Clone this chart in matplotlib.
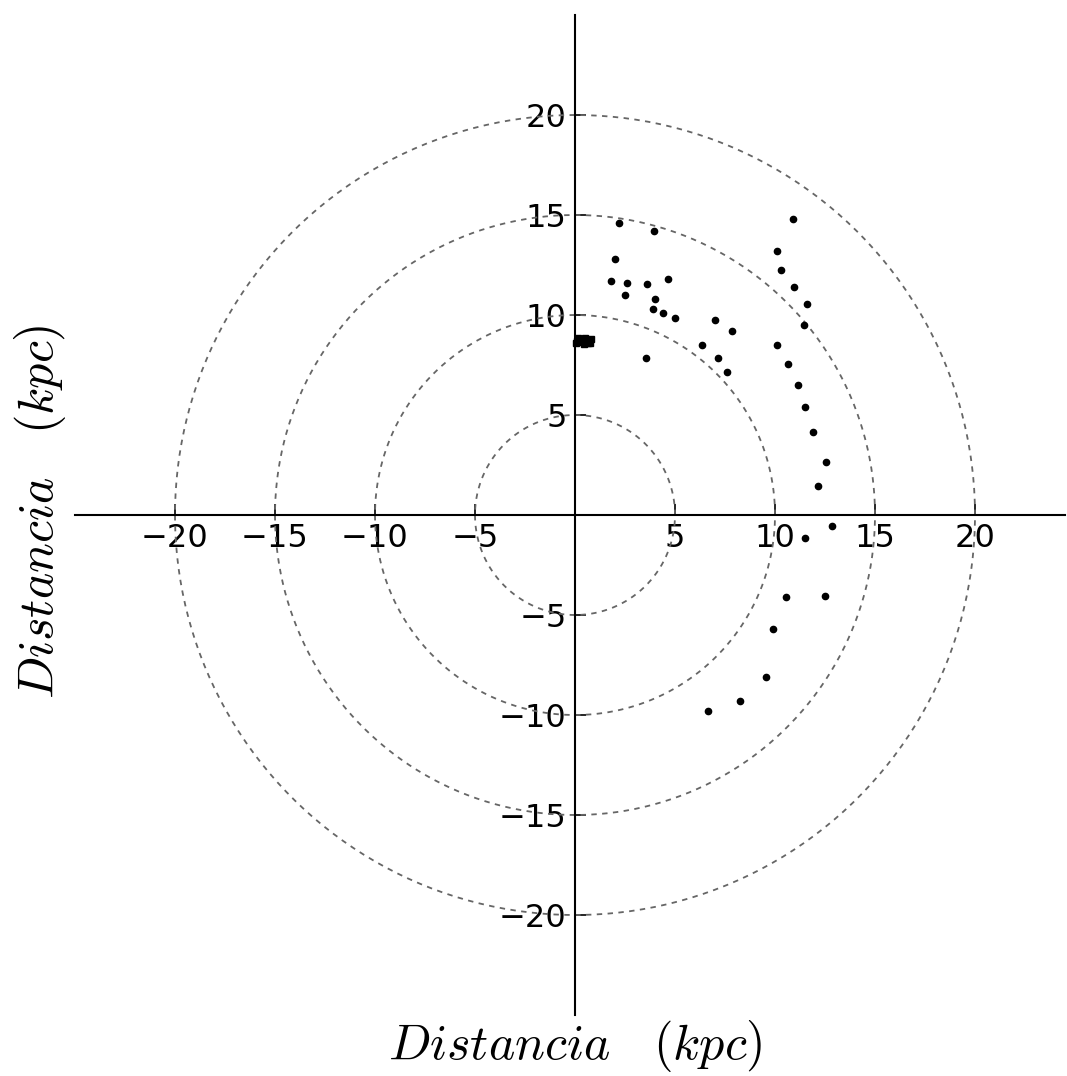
import numpy as np
import matplotlib.pyplot as plt

plt.rcParams["mathtext.fontset"] = "cm"

# posiciones galactocentricas (kpc)
x_kpc = [2.18, 3.97, 2.0, 1.82, 2.58, 3.62, 4.67, 2.52, 3.98, 3.9, 4.42, 5.0, 3.55,
         6.35, 10.9, 10.1, 10.32, 10.95, 11.6, 11.47, 7.0, 7.83, 7.15, 7.6, 10.1, 10.63,
         11.13, 11.5, 11.92, 12.55, 12.13, 12.87, 11.48,
         10.55, 12.48, 9.9, 9.55, 8.27, 6.65]
y_kpc = [14.58, 14.2, 12.8, 11.72, 11.6, 11.53, 11.78, 11.02, 10.82, 10.32, 10.1, 9.85, 7.87,
         8.5, 14.8, 13.2, 12.25, 11.42, 10.53, 9.48, 9.75, 9.18, 7.87, 7.15, 8.5, 7.57,
         6.52, 5.4, 4.13, 2.63, 1.45, -0.53, -1.17,
         -4.12, -4.03, -5.68, -8.1, -9.32, -9.8]

# grupo cercano al Sol
x_sol = [0.05, 0.2, 0.35, 0.5, 0.65, 0.8, 0.15, 0.45, 0.75, 0.3, 0.6, 0.1]
y_sol = [8.6, 8.8, 8.65, 8.85, 8.6, 8.8, 8.85, 8.55, 8.6, 8.75, 8.7, 8.7]

radios = [5, 10, 15, 20]
ticks = [-20, -15, -10, -5, 5, 10, 15, 20]

fig = plt.figure(figsize=(10.67, 10.76), dpi=100)
ax = fig.add_axes([75 / 1067, 61 / 1076, 990 / 1067, 1000 / 1076])

theta = np.linspace(0, 2 * np.pi, 400)
for r in radios:
    ax.plot(r * np.cos(theta), r * np.sin(theta), linestyle="--", color="0.4",
            linewidth=1.3, dashes=(3, 3))

ax.plot(x_kpc, y_kpc, "o", color="black", markersize=4.5, linestyle="none")
ax.plot(x_sol, y_sol, "s", color="black", markersize=5, linestyle="none")

ax.set_xlim(-25, 24.5)
ax.set_ylim(-25, 25)

ax.spines["left"].set_position("zero")
ax.spines["bottom"].set_position("zero")
ax.spines["right"].set_visible(False)
ax.spines["top"].set_visible(False)
ax.spines["left"].set_linewidth(1.5)
ax.spines["bottom"].set_linewidth(1.5)

ax.set_xticks(ticks)
ax.set_yticks(ticks)
ax.tick_params(direction="in", length=8, width=1.2, labelsize=23, pad=6)
ax.xaxis.set_ticks_position("bottom")
ax.yaxis.set_ticks_position("left")

etiqueta = r"$Distancia\ \ \ (kpc)$"
fig.text(575 / 1067, 1 - 1046 / 1076, etiqueta, fontsize=36,
         ha="center", va="center")
fig.text(40 / 1067, 1 - 512 / 1076, etiqueta, fontsize=36,
         ha="center", va="center", rotation=90)

plt.savefig("out.png", dpi=100)
